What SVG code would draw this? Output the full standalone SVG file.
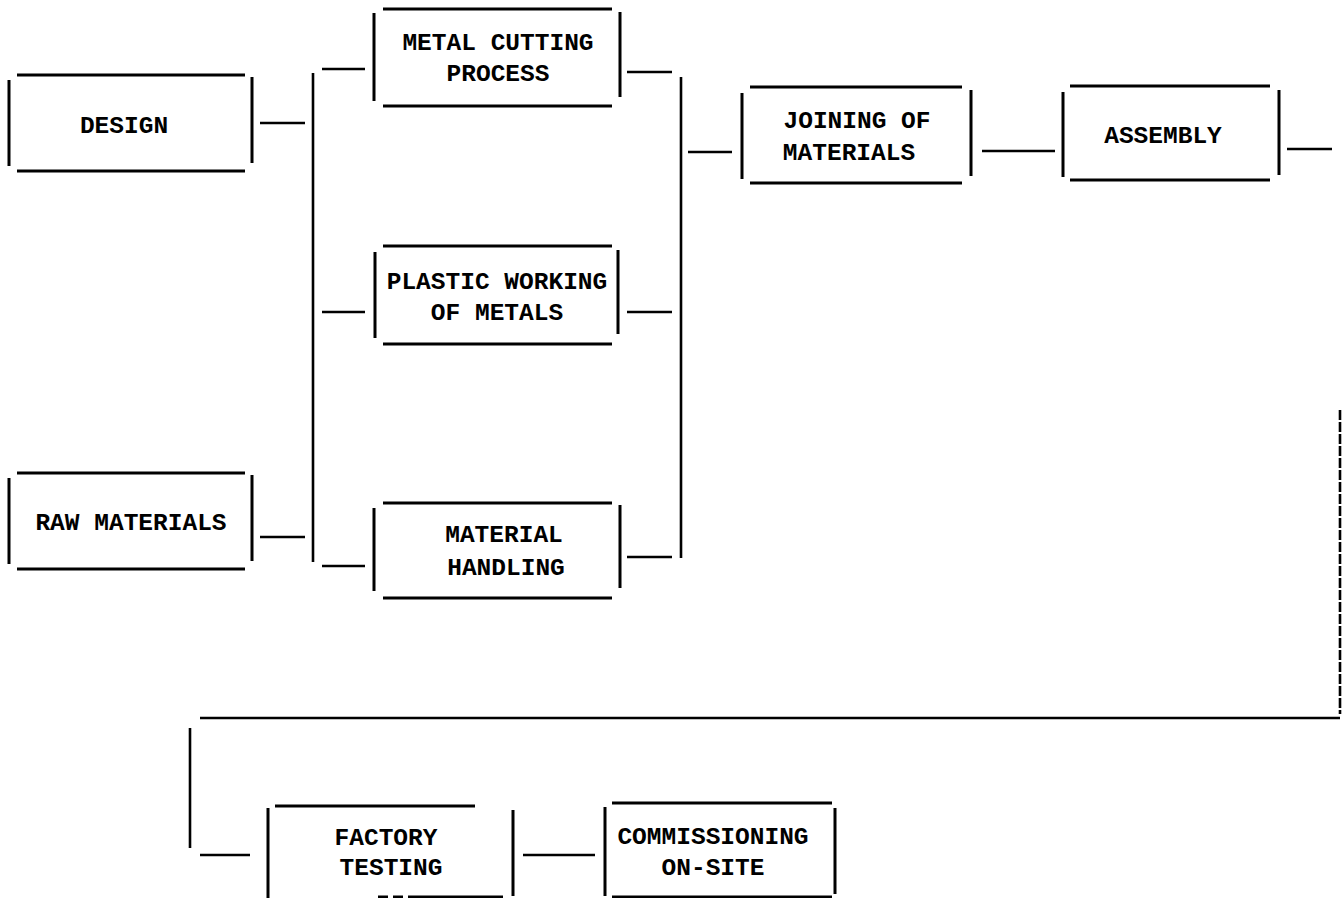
<svg xmlns="http://www.w3.org/2000/svg" width="1342" height="898" viewBox="0 0 1342 898">
<style>
.l{stroke:#000;stroke-width:3;fill:none;stroke-linecap:butt}
.c{stroke:#000;stroke-width:2.6;fill:none}
.t{font-family:"Liberation Mono","Courier New",monospace;font-weight:bold;font-size:24.5px;fill:#000;text-anchor:middle}
</style>
<rect width="1342" height="898" fill="#fff"/>
<g id="design">
<path class="l" d="M17 75H245M17 171H245M9 80V166M252 77V163"/>
<text class="t" x="124" y="133">DESIGN</text>
</g>
<g id="raw-materials">
<path class="l" d="M17 473H245M17 569H245M9 478V564M252 475V561"/>
<text class="t" x="131" y="530">RAW MATERIALS</text>
</g>
<g id="metal-cutting">
<path class="l" d="M383 9H612M383 106H612M374 13V101M620 12V97"/>
<text class="t" x="498" y="50">METAL CUTTING</text>
<text class="t" x="498" y="81">PROCESS</text>
</g>
<g id="plastic-working">
<path class="l" d="M383 246H612M383 344H612M375 252V338M618 250V334"/>
<text class="t" x="497" y="289">PLASTIC WORKING</text>
<text class="t" x="497" y="320">OF METALS</text>
</g>
<g id="material-handling">
<path class="l" d="M383 503H612M383 598H612M374 508V591M620 505V588"/>
<text class="t" x="504" y="542">MATERIAL</text>
<text class="t" x="506" y="575">HANDLING</text>
</g>
<g id="joining">
<path class="l" d="M750 87H962M750 183H962M742 93V179M971 90V176"/>
<text class="t" x="857" y="128">JOINING OF</text>
<text class="t" x="849" y="160">MATERIALS</text>
</g>
<g id="assembly">
<path class="l" d="M1070 86H1270M1070 180H1270M1063 92V177M1279 90V175"/>
<text class="t" x="1163" y="143">ASSEMBLY</text>
</g>
<g id="factory-testing">
<path class="l" d="M275 806H475M268 808V898M513 810V896"/>
<path class="l" d="M378 897H388M393 897H403M408 897H503"/>
<text class="t" x="386" y="845">FACTORY</text>
<text class="t" x="391" y="875">TESTING</text>
</g>
<g id="commissioning">
<path class="l" d="M612 803H832M612 897H832M605 807V896M835 808V894"/>
<text class="t" x="713" y="844">COMMISSIONING</text>
<text class="t" x="713" y="875">ON-SITE</text>
</g>
<g id="connectors">
<path class="c" d="M260 123H305"/>
<path class="c" d="M260 537H305"/>
<path class="c" d="M313 73V562"/>
<path class="c" d="M322 69H365"/>
<path class="c" d="M322 312H365"/>
<path class="c" d="M322 566H365"/>
<path class="c" d="M627 72H672"/>
<path class="c" d="M627 312H672"/>
<path class="c" d="M627 557H672"/>
<path class="c" d="M681 77V558"/>
<path class="c" d="M688 152H732"/>
<path class="c" d="M982 151H1055"/>
<path class="c" d="M1287 149H1332"/>
<path class="c" d="M1340 410V714" stroke-dasharray="10 2" stroke-width="2"/>
<path class="c" d="M200 718H1340"/>
<path class="c" d="M190 728V848"/>
<path class="c" d="M200 855H250"/>
<path class="c" d="M523 855H595"/>
</g>
</svg>
